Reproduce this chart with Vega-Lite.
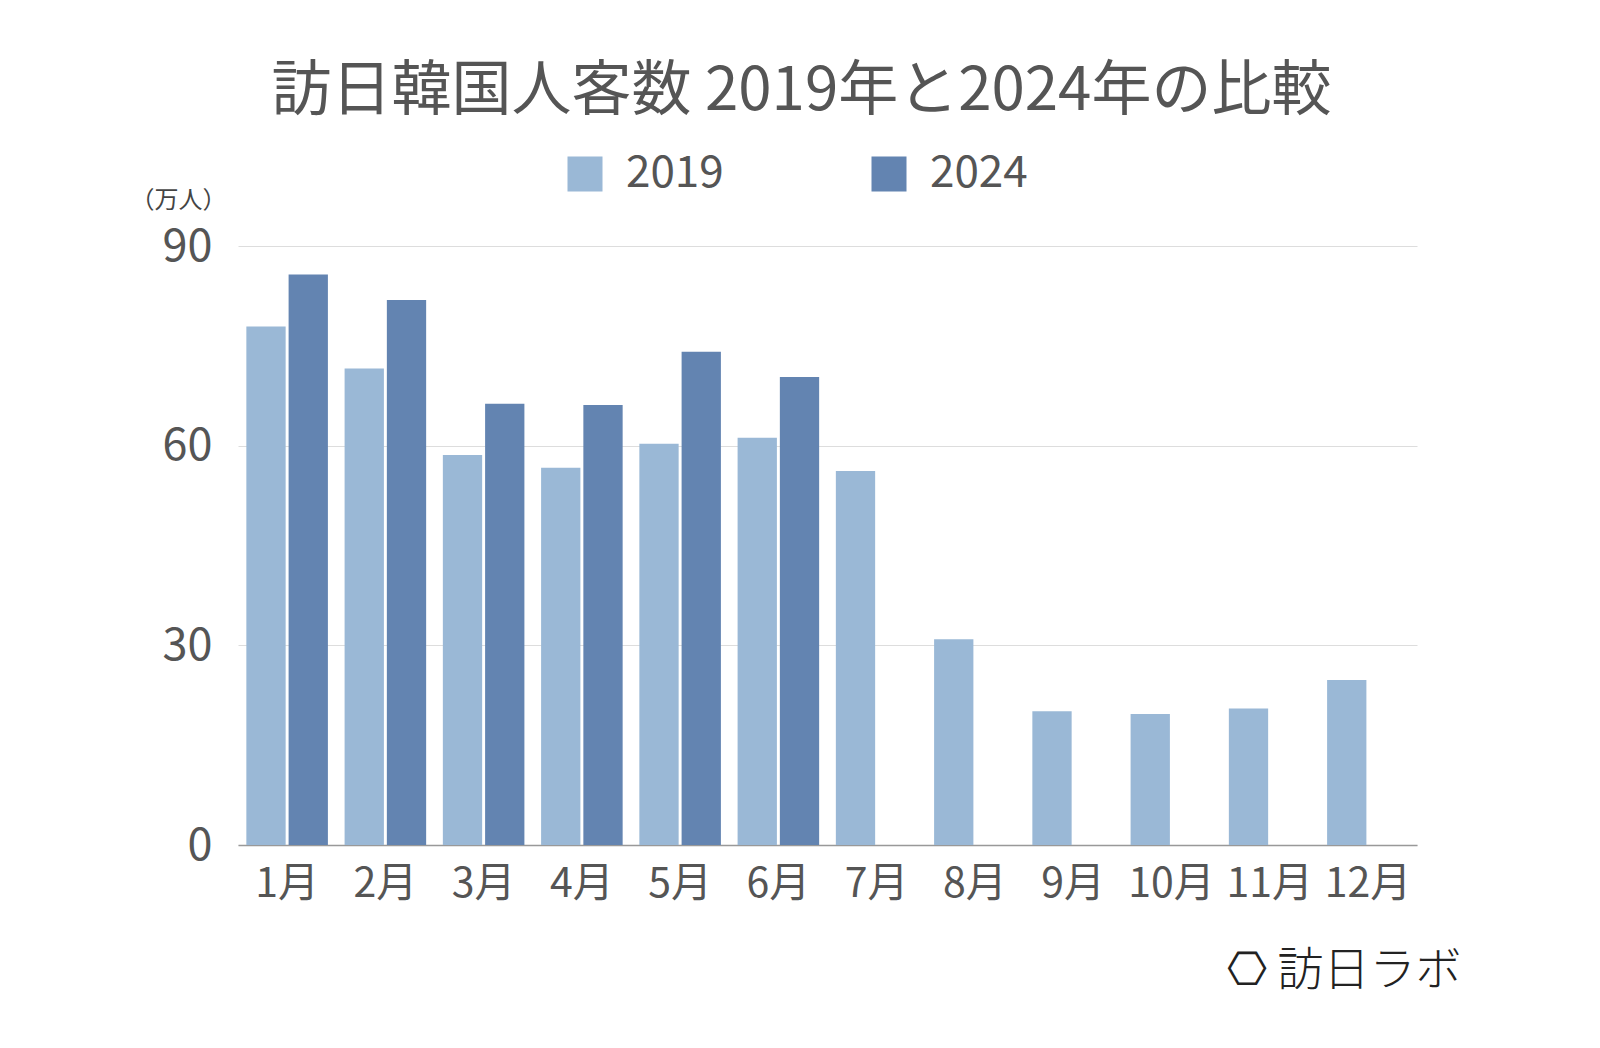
{
  "$schema": "https://vega.github.io/schema/vega-lite/v6.json",
  "autosize": {"type": "none"},
  "padding": {"left": 238, "top": 246, "right": 183, "bottom": 203},
  "width": 1179,
  "height": 599,
  "background": "#ffffff",
  "title": {
    "text": "訪日韓国人客数 2019年と2024年の比較",
    "font": "Noto Sans CJK JP",
    "fontSize": 60,
    "fontWeight": "normal",
    "color": "#555555",
    "anchor": "middle",
    "frame": "group",
    "dx": -26,
    "offset": 29
  },
  "data": {
    "values": [
      {"month": "1月", "year": "2019", "value": 77.9},
      {"month": "2月", "year": "2019", "value": 71.6},
      {"month": "3月", "year": "2019", "value": 58.6},
      {"month": "4月", "year": "2019", "value": 56.7},
      {"month": "5月", "year": "2019", "value": 60.3},
      {"month": "6月", "year": "2019", "value": 61.2},
      {"month": "7月", "year": "2019", "value": 56.2},
      {"month": "8月", "year": "2019", "value": 30.9},
      {"month": "9月", "year": "2019", "value": 20.1},
      {"month": "10月", "year": "2019", "value": 19.7},
      {"month": "11月", "year": "2019", "value": 20.5},
      {"month": "12月", "year": "2019", "value": 24.8},
      {"month": "1月", "year": "2024", "value": 85.7},
      {"month": "2月", "year": "2024", "value": 81.9},
      {"month": "3月", "year": "2024", "value": 66.3},
      {"month": "4月", "year": "2024", "value": 66.1},
      {"month": "5月", "year": "2024", "value": 74.1},
      {"month": "6月", "year": "2024", "value": 70.3}
    ]
  },
  "mark": {"type": "bar"},
  "encoding": {
    "x": {
      "field": "month",
      "type": "nominal",
      "sort": ["1月","2月","3月","4月","5月","6月","7月","8月","9月","10月","11月","12月"],
      "scale": {"paddingInner": 0.17, "paddingOuter": 0.085},
      "axis": {
        "title": "⎔ 訪日ラボ",
        "titleX": 1223,
        "titleY": 125,
        "titleAlign": "right",
        "titleAnchor": null,
        "titleBaseline": "middle",
        "titleFont": "Noto Sans CJK JP",
        "titleFontSize": 46,
        "titleFontWeight": 300,
        "titleColor": "#222222",
        "labelAngle": 0,
        "labelFont": "Noto Sans CJK JP",
        "labelFontSize": 41,
        "labelColor": "#555555",
        "labelPadding": 19,
        "ticks": false,
        "domainColor": "#999999",
        "domainWidth": 1.5,
        "grid": false
      }
    },
    "xOffset": {
      "field": "year",
      "type": "nominal",
      "scale": {"paddingInner": 0.07}
    },
    "y": {
      "field": "value",
      "type": "quantitative",
      "scale": {"domain": [0, 90], "nice": false},
      "axis": {
        "values": [0, 30, 60, 90],
        "title": "（万人）",
        "titleAngle": 0,
        "titleX": -60,
        "titleY": -46,
        "titleAlign": "center",
        "titleBaseline": "middle",
        "titleFont": "Noto Sans CJK JP",
        "titleFontSize": 24,
        "titleFontWeight": "normal",
        "titleColor": "#444444",
        "labelFont": "Noto Sans CJK JP",
        "labelFontSize": 45,
        "labelColor": "#555555",
        "labelPadding": 26,
        "ticks": false,
        "domain": false,
        "gridColor": "#dddddd",
        "gridWidth": 1
      }
    },
    "color": {
      "field": "year",
      "type": "nominal",
      "scale": {"domain": ["2019", "2024"], "range": ["#9ab8d6", "#6384b1"]},
      "legend": {
        "title": null,
        "orient": "none",
        "direction": "horizontal",
        "legendX": 325,
        "legendY": -94,
        "symbolType": "square",
        "symbolSize": 1225,
        "symbolStrokeWidth": 0,
        "symbolOpacity": 1,
        "labelFont": "Noto Sans CJK JP",
        "labelFontSize": 44,
        "labelColor": "#555555",
        "labelOffset": 19,
        "columnPadding": 143
      }
    }
  },
  "config": {
    "view": {"stroke": null}
  }
}
